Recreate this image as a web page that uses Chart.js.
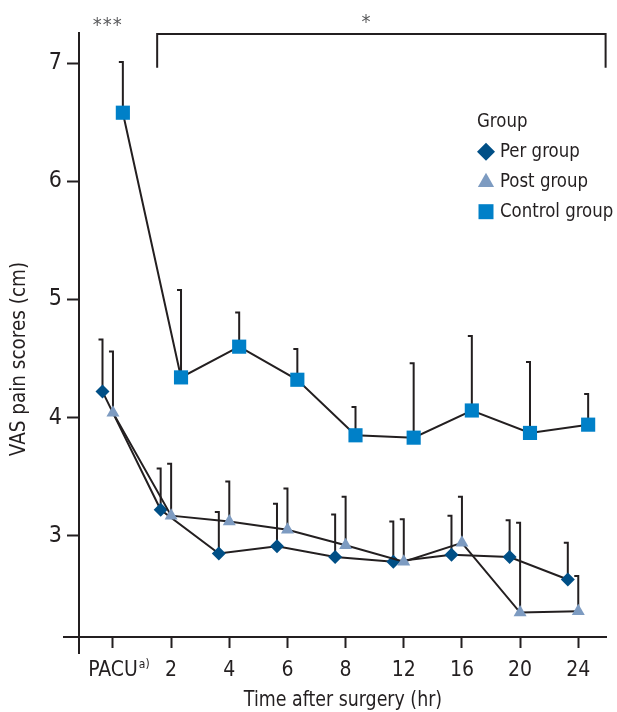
<!DOCTYPE html>
<html>
<head>
<meta charset="utf-8">
<script src="https://cdn.jsdelivr.net/npm/chart.js@4.4.1/dist/chart.umd.min.js"></script>
<style>
  html, body { margin: 0; padding: 0; background: #fff; }
  #wrap { width: 617px; height: 712px; }
</style>
</head>
<body>
<div id="wrap"><canvas id="chart" width="617" height="712"></canvas></div>
<script>
// Data
const timeLabels = ['PACU', '2', '4', '6', '8', '12', '16', '20', '24'];
const pacuNote = 'a)';
const groupNames = ['Per group', 'Post group', 'Control group'];

const perMean = [4.22, 3.22, 2.85, 2.91, 2.82, 2.78, 2.84, 2.82, 2.63];
const perSd = [0.44, 0.35, 0.35, 0.36, 0.36, 0.34, 0.33, 0.31, 0.31];

const postMean = [4.04, 3.17, 3.12, 3.05, 2.92, 2.78, 2.94, 2.35, 2.36];
const postSd = [0.52, 0.44, 0.34, 0.35, 0.41, 0.36, 0.39, 0.76, 0.30];

const controlMean = [6.58, 4.34, 4.60, 4.32, 3.85, 3.83, 4.06, 3.87, 3.94];
const controlSd = [0.43, 0.74, 0.29, 0.26, 0.24, 0.63, 0.63, 0.60, 0.26];

const yTicks = [3, 4, 5, 6, 7];

// Significance marks
const sigPacu = '***';
const sigLater = '*';

// Styling
const FONT = "'Liberation Sans Narrow', 'DejaVu Sans Condensed', sans-serif";
const ink = '#231f20';
const colors = ['#004f86', '#7d9bc1', '#0080c8'];
const shapes = ['rectRot', 'triangle', 'rect'];
const radii = [7, 7.5, 10];
const dodge = [-0.18, 0, 0.17];

const means = [perMean, postMean, controlMean];
const sds = [perSd, postSd, controlSd];

const datasets = means.map((m, k) => ({
  label: groupNames[k],
  data: m.map((v, i) => ({ x: i + dodge[k], y: v })),
  borderColor: ink,
  borderWidth: 2,
  tension: 0,
  pointStyle: shapes[k],
  pointRadius: radii[k],
  pointBackgroundColor: colors[k],
  pointBorderWidth: 0,
  order: [2, 1, 0][k],
}));

// legend marker shapes
function marker(ctx, shape, x, y, r, color) {
  ctx.fillStyle = color;
  ctx.beginPath();
  if (shape === 'rectRot') {
    ctx.moveTo(x, y - r); ctx.lineTo(x + r, y); ctx.lineTo(x, y + r); ctx.lineTo(x - r, y);
  } else if (shape === 'triangle') {
    ctx.moveTo(x, y - r); ctx.lineTo(x + r * 0.9, y + r * 0.6); ctx.lineTo(x - r * 0.9, y + r * 0.6);
  } else {
    ctx.rect(x - r, y - r, 2 * r, 2 * r);
  }
  ctx.closePath();
  ctx.fill();
}

// narrow text: squeeze horizontally since no condensed face is guaranteed
function narrowText(ctx, text, x, y, sx) {
  ctx.save();
  ctx.translate(x, y);
  ctx.scale(sx, 1);
  ctx.fillText(text, 0, 0);
  ctx.restore();
}

const extras = {
  id: 'extras',
  beforeDatasetsDraw(chart) {
    // upward error bars (mean + SD)
    const ctx = chart.ctx, ys = chart.scales.y;
    ctx.save();
    ctx.strokeStyle = ink;
    ctx.lineWidth = 2;
    chart.data.datasets.forEach((ds, k) => {
      chart.getDatasetMeta(k).data.forEach((pt, i) => {
        const top = ys.getPixelForValue(means[k][i] + sds[k][i]);
        ctx.beginPath();
        ctx.moveTo(pt.x, pt.y);
        ctx.lineTo(pt.x, top);
        ctx.lineTo(pt.x - 4, top);
        ctx.stroke();
      });
    });
    ctx.restore();
  },
  afterDraw(chart) {
    const ctx = chart.ctx, a = chart.chartArea;
    const xs = chart.scales.x, ys = chart.scales.y;
    ctx.save();

    // axes, crossing a little past each other
    ctx.strokeStyle = ink;
    ctx.lineWidth = 2;
    ctx.beginPath();
    ctx.moveTo(a.left, a.top);
    ctx.lineTo(a.left, a.bottom + 17);
    ctx.moveTo(a.left - 16, a.bottom);
    ctx.lineTo(a.right, a.bottom);
    ctx.stroke();

    // bracket over 2-24 hr
    const bx0 = xs.getPixelForValue(0.76), bx1 = xs.getPixelForValue(8.47);
    const by0 = ys.getPixelForValue(7.246), by1 = ys.getPixelForValue(6.96);
    ctx.beginPath();
    ctx.moveTo(bx0, by1); ctx.lineTo(bx0, by0); ctx.lineTo(bx1, by0); ctx.lineTo(bx1, by1);
    ctx.stroke();

    // stars
    ctx.fillStyle = '#58595b';
    ctx.font = '20px ' + FONT;
    ctx.textAlign = 'center';
    ctx.textBaseline = 'alphabetic';
    const px = xs.getPixelForValue(-0.1);
    [...sigPacu].forEach((s, i) => ctx.fillText(s, px + (i - 1) * 10, 31));
    ctx.fillText(sigLater, xs.getPixelForValue(4.35), 28);

    // PACU superscript
    ctx.fillStyle = ink;
    ctx.font = '21px ' + FONT;
    const w = ctx.measureText(timeLabels[0]).width;
    ctx.font = '12px ' + FONT;
    ctx.textAlign = 'left';
    ctx.fillText(pacuNote, xs.getPixelForValue(0) + w / 2 + 1, 668);

    // x title
    ctx.font = '22px ' + FONT;
    ctx.textAlign = 'center';
    narrowText(ctx, 'Time after surgery (hr)', (a.left + a.right) / 2, 706, 0.88);

    // y title
    ctx.textBaseline = 'middle';
    ctx.save();
    ctx.translate(19, 359);
    ctx.rotate(-Math.PI / 2);
    narrowText(ctx, 'VAS pain scores (cm)', 0, 0, 0.93);
    ctx.restore();

    // legend
    ctx.textAlign = 'left';
    ctx.textBaseline = 'alphabetic';
    ctx.font = '19px ' + FONT;
    ctx.fillStyle = ink;
    narrowText(ctx, 'Group', 477, 127, 0.97);
    const lr = [9, 9, 7.5];
    groupNames.forEach((g, k) => {
      const cy = 151.7 + k * 30;
      marker(ctx, shapes[k], 486, cy, lr[k], colors[k]);
      ctx.fillStyle = ink;
      narrowText(ctx, g, 500, cy + 5.5, 0.97);
    });
    ctx.restore();
  }
};

new Chart(document.getElementById('chart'), {
  type: 'line',
  data: { datasets },
  plugins: [extras],
  options: {
    responsive: false,
    animation: false,
    layout: { padding: { top: 32, right: 2, left: 0, bottom: 0 } },
    plugins: { legend: { display: false }, tooltip: { enabled: false } },
    scales: {
      x: {
        type: 'linear',
        min: -0.584,
        max: 8.494,
        afterBuildTicks: s => { s.ticks = timeLabels.map((_, i) => ({ value: i })); },
        afterFit: s => { s.height = 75; },
        ticks: {
          callback: (v, i) => timeLabels[i],
          autoSkip: false,
          maxRotation: 0,
          padding: 10,
          color: ink,
          font: { family: FONT, size: 21 },
        },
        grid: { drawOnChartArea: false, tickLength: 11, tickWidth: 2, tickColor: ink },
        border: { display: false },
      },
      y: {
        min: 2.143,
        max: 7.263,
        afterBuildTicks: s => { s.ticks = yTicks.map(v => ({ value: v })); },
        afterFit: s => { s.width = 79; },
        ticks: {
          padding: 5,
          color: ink,
          font: { family: FONT, size: 23 },
        },
        grid: { drawOnChartArea: false, tickLength: 12, tickWidth: 2, tickColor: ink },
        border: { display: false },
      },
    },
  },
});
</script>
</body>
</html>
